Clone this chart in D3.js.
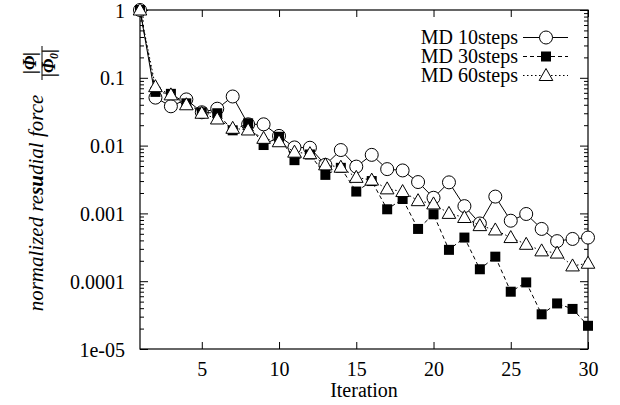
<!DOCTYPE html>
<html>
<head>
<meta charset="utf-8">
<script src="https://cdn.jsdelivr.net/npm/d3@7"></script>
<style>
  html, body { margin: 0; padding: 0; background: #fff; }
  svg { display: block; font-family: "Liberation Serif", "Times New Roman", serif; }
  .axis text { font-size: 20px; fill: #000; font-family: "Liberation Serif", serif; }
  .axis line { stroke: #000; stroke-width: 1; }
</style>
</head>
<body>
<svg id="chart" width="620" height="405"></svg>
<script>
const iterations = [1,2,3,4,5,6,7,8,9,10,11,12,13,14,15,16,17,18,19,20,21,22,23,24,25,26,27,28,29,30];
const md10 = [1, 0.051, 0.038, 0.048, 0.031, 0.035, 0.053, 0.0206, 0.0206, 0.0139, 0.0094, 0.0093, 0.0052, 0.0086, 0.0049, 0.0073, 0.0045, 0.0043, 0.0029, 0.0017, 0.00287, 0.00128, 0.00071, 0.00177, 0.00078, 0.00098, 0.00059, 0.00039, 0.00042, 0.00044];
const md30 = [1, 0.062, 0.058, 0.042, 0.031, 0.030, 0.0168, 0.0213, 0.0102, 0.0135, 0.0061, 0.0074, 0.0037, 0.0047, 0.0021, 0.0030, 0.00115, 0.00163, 0.00059, 0.00097, 0.00029, 0.00044, 0.00015, 0.00023, 0.000070, 0.000096, 0.0000325, 0.000047, 0.000039, 0.000022];
const md60 = [1, 0.074, 0.056, 0.040, 0.030, 0.0247, 0.018, 0.017, 0.0128, 0.0114, 0.0080, 0.0076, 0.0052, 0.0048, 0.0034, 0.0031, 0.0023, 0.0021, 0.00154, 0.00138, 0.0010, 0.00087, 0.00066, 0.00057, 0.00044, 0.00035, 0.00028, 0.00026, 0.000168, 0.000184];
const seriesNames = ["MD 10steps", "MD 30steps", "MD 60steps"];
const xTickValues = [5, 10, 15, 20, 25, 30];
const xTickLabels = ["5", "10", "15", "20", "25", "30"];
const yTickValues = [1, 0.1, 0.01, 0.001, 0.0001, 0.00001];
const yTickLabels = ["1", "0.1", "0.01", "0.001", "0.0001", "1e-05"];
const xTitle = "Iteration";
const yTitleParts = ["normalized re", "su", "dial force"];

const svg = d3.select("#chart");
const pL = 140, pR = 588, pT = 10, pB = 349;

const x = d3.scaleLinear().domain([1, 30]).range([pL, pR]);
const y = d3.scaleLog().domain([1e-5, 1]).range([pB, pT]);

// minor log ticks
const yMinor = [];
for (let e = -5; e < 0; e++) for (let m = 2; m <= 9; m++) yMinor.push(m * Math.pow(10, e));

// Axes
svg.append("g").attr("class", "axis").attr("transform", `translate(0,${pB})`)
  .call(d3.axisBottom(x).tickValues(xTickValues).tickFormat((d, i) => xTickLabels[i]).tickSize(-7).tickPadding(13));
svg.append("g").attr("class", "axis").attr("transform", `translate(0,${pT})`)
  .call(d3.axisTop(x).tickValues(xTickValues).tickFormat("").tickSize(-7));
const gy = svg.append("g").attr("class", "axis").attr("transform", `translate(${pL},0)`)
  .call(d3.axisLeft(y).tickValues(yTickValues).tickFormat((d, i) => yTickLabels[i]).tickSize(-8).tickPadding(15));
svg.append("g").attr("class", "axis").attr("transform", `translate(${pL},0)`)
  .call(d3.axisLeft(y).tickValues(yMinor).tickFormat("").tickSize(-4));
svg.append("g").attr("class", "axis").attr("transform", `translate(${pR},0)`)
  .call(d3.axisRight(y).tickValues(yTickValues).tickFormat("").tickSize(-8));
svg.append("g").attr("class", "axis").attr("transform", `translate(${pR},0)`)
  .call(d3.axisRight(y).tickValues(yMinor).tickFormat("").tickSize(-4));
svg.selectAll(".axis .domain").remove();
gy.selectAll("text").attr("dy", "0.35em");

// Frame
svg.append("rect").attr("x", pL).attr("y", pT).attr("width", pR - pL).attr("height", pB - pT)
  .attr("fill", "none").attr("stroke", "#000").attr("stroke-width", 1.2);

// Series
const styles = [
  { data: md10, dash: null, marker: "circle" },
  { data: md30, dash: "4,3", marker: "square" },
  { data: md60, dash: "1.5,2.5", marker: "triangle" }
];
const line = d3.line().x(d => x(d[0])).y(d => y(d[1]));

function drawMarker(g, type, cx, cy) {
  if (type === "circle") {
    g.append("circle").attr("cx", cx).attr("cy", cy).attr("r", 6.5)
      .attr("fill", "#fff").attr("stroke", "#000").attr("stroke-width", 1);
  } else if (type === "square") {
    g.append("rect").attr("x", cx - 5).attr("y", cy - 5).attr("width", 10).attr("height", 10)
      .attr("fill", "#000");
  } else {
    g.append("path").attr("d", `M${cx},${cy - 7}L${cx + 6.8},${cy + 5}L${cx - 6.8},${cy + 5}Z`)
      .attr("fill", "#fff").attr("stroke", "#000").attr("stroke-width", 1);
  }
}

styles.forEach(s => {
  const pts = iterations.map((it, i) => [it, s.data[i]]);
  const g = svg.append("g");
  g.append("path").attr("d", line(pts)).attr("fill", "none").attr("stroke", "#000")
    .attr("stroke-width", 1).attr("stroke-dasharray", s.dash);
  pts.forEach(p => drawMarker(g, s.marker, x(p[0]), y(p[1])));
});

// Legend
const legBaselines = [43.5, 62.5, 81.5];
seriesNames.forEach((name, i) => {
  const g = svg.append("g");
  g.append("text").attr("x", 518).attr("y", legBaselines[i]).attr("text-anchor", "end")
    .attr("font-size", 20).text(name);
  const ly = legBaselines[i] - 6;
  g.append("line").attr("x1", 523).attr("x2", 568).attr("y1", ly).attr("y2", ly)
    .attr("stroke", "#000").attr("stroke-width", 1).attr("stroke-dasharray", styles[i].dash);
  drawMarker(g, styles[i].marker, 546, ly);
});

// X title
svg.append("text").attr("x", (pL + pR) / 2).attr("y", 397).attr("text-anchor", "middle")
  .attr("font-size", 20).text(xTitle);

// Y title (rotated)
const yt = svg.append("text").attr("transform", "translate(43,203) rotate(-90)")
  .attr("text-anchor", "middle").attr("font-size", 21).attr("font-style", "italic");
yt.append("tspan").text(yTitleParts[0]);
yt.append("tspan").attr("font-weight", "bold").text(yTitleParts[1]);
yt.append("tspan").text(yTitleParts[2]);

// fraction |Φ| / |Φ0|
const fr = svg.append("g").attr("transform", "translate(0,63) rotate(-90)");
fr.append("text").attr("x", 0).attr("y", 36).attr("text-anchor", "middle")
  .attr("font-size", 18).attr("font-style", "italic").attr("font-weight", "bold").text("|Φ|");
fr.append("line").attr("x1", -17).attr("x2", 17).attr("y1", 42).attr("y2", 42)
  .attr("stroke", "#000").attr("stroke-width", 1);
const den = fr.append("text").attr("x", 0).attr("y", 55).attr("text-anchor", "middle")
  .attr("font-size", 18).attr("font-style", "italic").attr("font-weight", "bold");
den.append("tspan").text("|Φ");
den.append("tspan").attr("font-size", 12).attr("dy", 3).text("0");
den.append("tspan").attr("dy", -3).text("|");
</script>
</body>
</html>
